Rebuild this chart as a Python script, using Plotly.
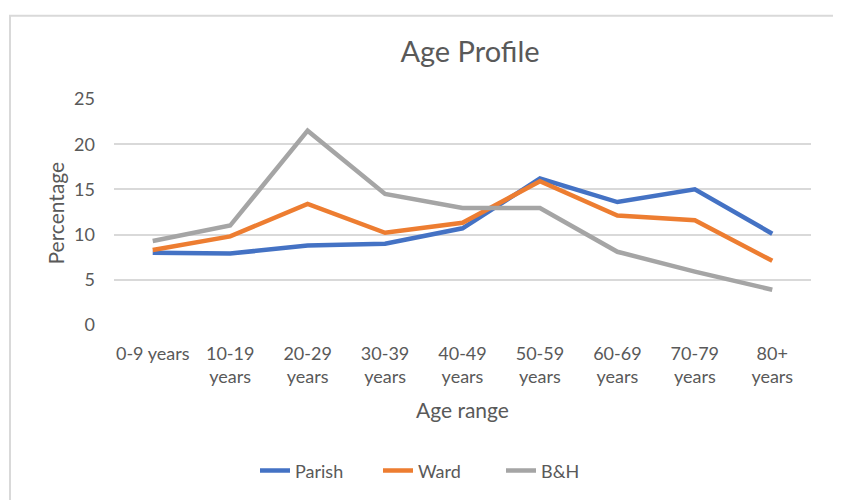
import plotly.graph_objects as go

categories = ["0-9 years", "10-19<br>years", "20-29<br>years", "30-39<br>years",
              "40-49<br>years", "50-59<br>years", "60-69<br>years", "70-79<br>years",
              "80+<br>years"]
parish = [8.0, 7.9, 8.8, 9.0, 10.7, 16.2, 13.6, 15.0, 10.1]
ward = [8.3, 9.8, 13.4, 10.2, 11.3, 15.9, 12.1, 11.6, 7.1]
bh = [9.3, 11.0, 21.5, 14.5, 12.95, 12.95, 8.1, 5.9, 3.9]
y_ticks = [0, 5, 10, 15, 20, 25]

FONT = "Lato, 'Open Sans', sans-serif"
TXT = "#595959"

# page body offset
OX, OY = 8, 6
PL, PR, PT, PB = 114 - OX, 811 - OX, 97 - OY, 328 - OY
W, H = 833, 494
PW, PH = PR - PL, PB - PT

def px(x):
    return (x - OX - PL) / PW

def py(y):
    return (PB - (y - OY)) / PH

fig = go.Figure()
for name, vals, col in [("Parish", parish, "#4472C4"),
                        ("Ward", ward, "#ED7D31"),
                        ("B&H", bh, "#A5A5A5")]:
    fig.add_trace(go.Scatter(x=categories, y=vals, name=name, mode="lines",
                             line=dict(color=col, width=4.5)))

fig.update_layout(
    width=W, height=H,
    margin=dict(l=PL, r=W - PR, t=PT, b=H - PB),
    paper_bgcolor="white", plot_bgcolor="white",
    font=dict(family=FONT, color=TXT, size=18),
    title=dict(text="Age Profile", x=px(470), xanchor="center", xref="paper",
               y=1 - (50 - OY) / H, yanchor="middle", font=dict(size=29, color=TXT)),
    showlegend=True,
    legend=dict(orientation="h", x=px(255), xanchor="left", y=py(477), yanchor="middle",
                font=dict(size=18, color=TXT), entrywidth=78, entrywidthmode="pixels",
                tracegroupgap=0),
    xaxis=dict(type="category", range=[-0.5, 8.5], showgrid=False, showline=False,
               zeroline=False, ticks="", tickfont=dict(size=18, color=TXT),
               ticklabelstandoff=16),
    yaxis=dict(range=[0, 25], tickvals=y_ticks, showgrid=True, gridcolor="#D9D9D9",
               gridwidth=1.5, zeroline=False, showline=False, ticks="",
               tickfont=dict(size=18, color=TXT), ticklabelstandoff=18),
    annotations=[
        dict(text="Age range", xref="paper", yref="paper", x=px(462), y=py(414),
             xanchor="center", yanchor="middle", showarrow=False,
             font=dict(size=21, color=TXT)),
        dict(text="Percentage", xref="paper", yref="paper", x=px(55), y=py(213),
             xanchor="center", yanchor="middle", showarrow=False, textangle=-90,
             font=dict(size=21, color=TXT)),
    ],
    shapes=[dict(type="rect", xref="paper", yref="paper",
                 x0=px(10), x1=px(834), y0=py(520), y1=py(12),
                 line=dict(color="#D9D9D9", width=2), fillcolor="rgba(0,0,0,0)",
                 layer="below")],
)

fig.write_html("out.html")
